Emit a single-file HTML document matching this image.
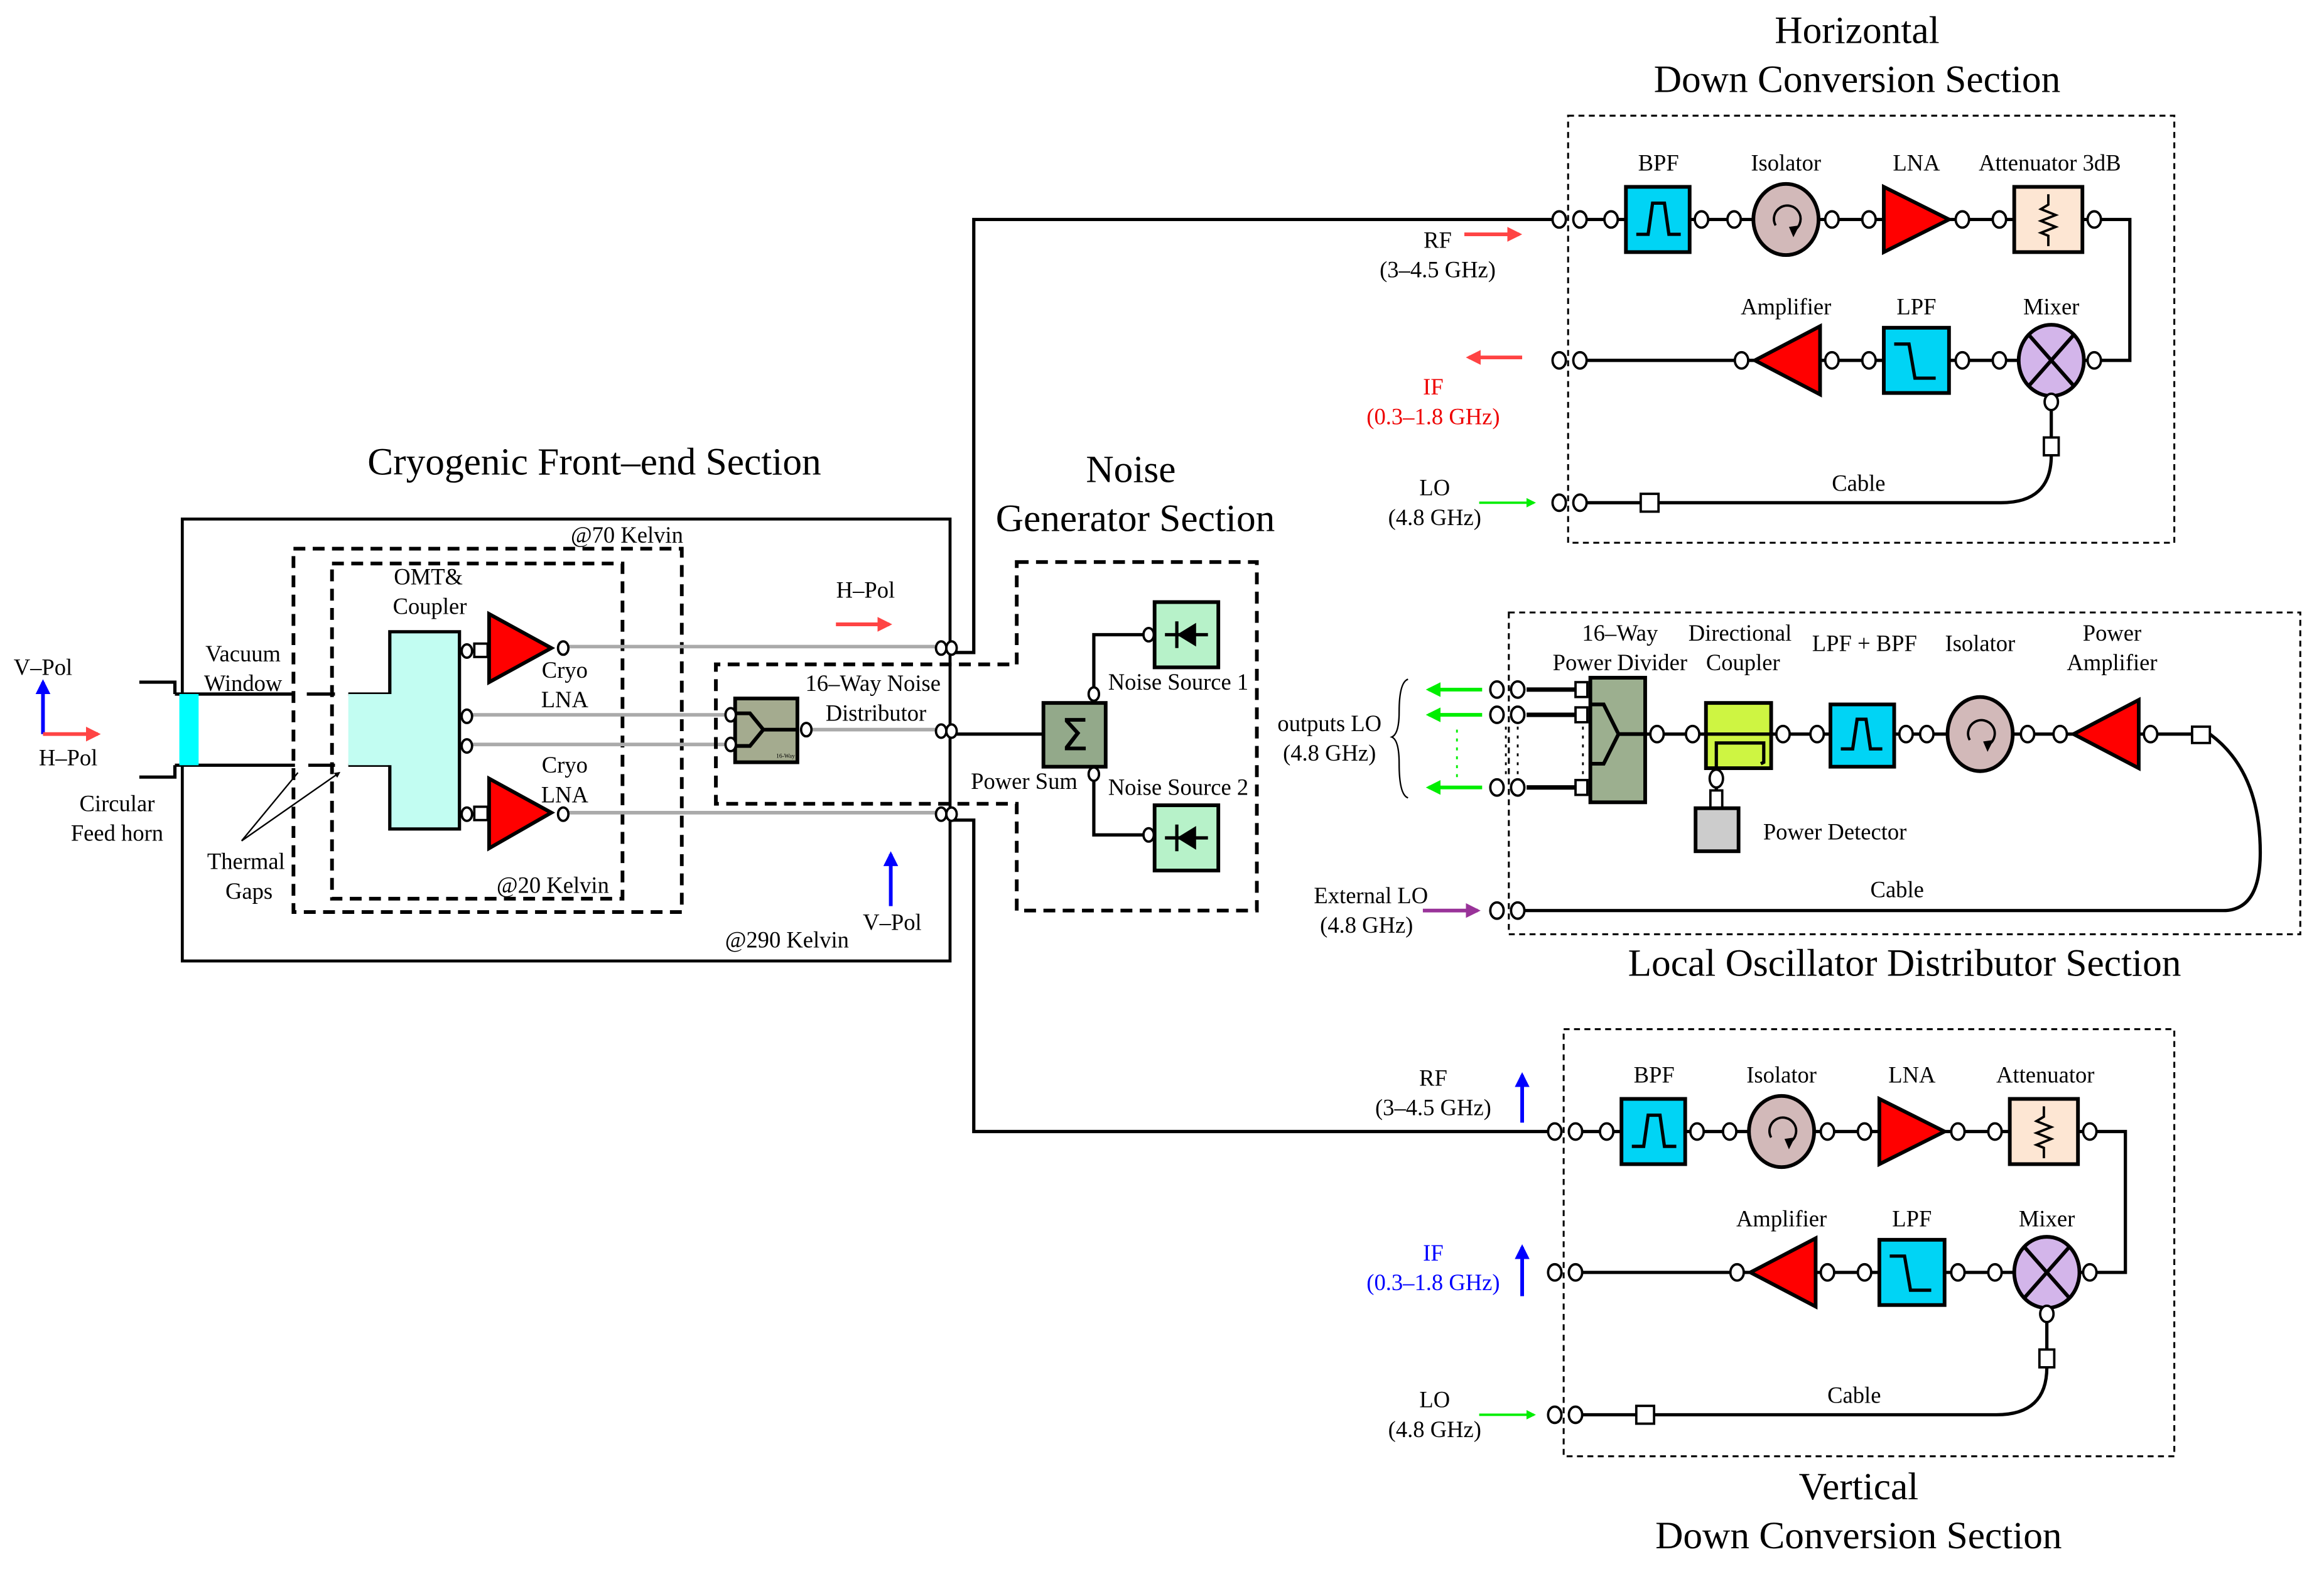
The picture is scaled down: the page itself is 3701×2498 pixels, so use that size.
<!DOCTYPE html>
<html><head><meta charset="utf-8"><style>
html,body{margin:0;padding:0;background:#fff}
svg{display:block}
text{font-family:"Liberation Serif",serif;font-size:15.5px;fill:#000;text-anchor:middle}
.t{font-size:26px}
.p{fill:#fff;stroke:#000;stroke-width:1.6}
.w{stroke:#000;stroke-width:2.2;fill:none}
.g{stroke:#aaa;stroke-width:2.4;fill:none}
.bx{stroke:#000;stroke-width:2.5}
</style></head><body>
<svg width="3701" height="2498" viewBox="0 0 1568 1058" preserveAspectRatio="none" xmlns="http://www.w3.org/2000/svg">
<defs>
<marker id="ar" viewBox="0 0 10 10" refX="8" refY="5" markerWidth="4" markerHeight="4" orient="auto"><path d="M0,0L10,5L0,10z" fill="context-stroke"/></marker>
<g id="chain">
 <path class="w" d="M1066,148H1097M1140,148H1183M1227,148H1271M1315,148H1359M1405,148H1437V243H1405M1362,243H1315M1271,243H1228M1184,243H1066M1384,265V295M1384,307 Q1384,339 1350,339H1119M1107,339H1066"/>
 <rect x="1097" y="126" width="43" height="44" fill="#00d4f5" class="bx"/>
 <path class="w" d="M1104,158H1112L1115,137H1123L1126,158H1134"/>
 <ellipse cx="1205" cy="148" rx="22" ry="24" fill="#d2b9b9" class="bx"/>
 <path class="w" style="stroke-width:1.6" d="M1198,152 A9,9 0 1 1 1211,155"/><path d="M1207,153L1214,152L1210,160z"/>
 <path d="M1271,126L1271,170L1315,148z" fill="#f00" class="bx"/>
 <rect x="1359" y="126" width="46" height="44" fill="#fde6d3" class="bx"/>
 <path class="w" style="stroke-width:1.6" d="M1382,131V138L1377,141L1387,145L1377,149L1387,153L1377,157L1382,159V166"/>
 <path d="M1184,243L1228,220L1228,266z" fill="#f00" class="bx"/>
 <rect x="1271" y="221" width="44" height="44" fill="#00d4f5" class="bx"/>
 <path class="w" d="M1278,232H1288L1292,255H1306"/>
 <ellipse cx="1384" cy="243" rx="22" ry="24" fill="#d3b5ea" class="bx"/>
 <path class="w" style="stroke-width:2.5" d="M1369,226L1399,260M1399,226L1369,260"/>
 <rect x="1379" y="295" width="10" height="12" class="p"/>
 <rect x="1107" y="333" width="12" height="12" class="p"/>
 <g class="p">
 <ellipse cx="1052" cy="148" rx="4.5" ry="5.5"/><ellipse cx="1066" cy="148" rx="4.5" ry="5.5"/>
 <ellipse cx="1087" cy="148" rx="4.5" ry="5.5"/><ellipse cx="1148" cy="148" rx="4.5" ry="5.5"/>
 <ellipse cx="1170" cy="148" rx="4.5" ry="5.5"/><ellipse cx="1236" cy="148" rx="4.5" ry="5.5"/>
 <ellipse cx="1261" cy="148" rx="4.5" ry="5.5"/><ellipse cx="1324" cy="148" rx="4.5" ry="5.5"/>
 <ellipse cx="1349" cy="148" rx="4.5" ry="5.5"/><ellipse cx="1413" cy="148" rx="4.5" ry="5.5"/>
 <ellipse cx="1052" cy="243" rx="4.5" ry="5.5"/><ellipse cx="1066" cy="243" rx="4.5" ry="5.5"/>
 <ellipse cx="1175" cy="243" rx="4.5" ry="5.5"/><ellipse cx="1236" cy="243" rx="4.5" ry="5.5"/>
 <ellipse cx="1261" cy="243" rx="4.5" ry="5.5"/><ellipse cx="1324" cy="243" rx="4.5" ry="5.5"/>
 <ellipse cx="1349" cy="243" rx="4.5" ry="5.5"/><ellipse cx="1413" cy="243" rx="4.5" ry="5.5"/>
 <ellipse cx="1384" cy="271" rx="4.5" ry="5.5"/>
 <ellipse cx="1052" cy="339" rx="4.5" ry="5.5"/><ellipse cx="1066" cy="339" rx="4.5" ry="5.5"/>
 </g>
</g>
</defs>

<!-- Horizontal section -->
<rect x="1058" y="78" width="409" height="288" fill="none" stroke="#000" stroke-width="1.3" stroke-dasharray="4,3"/>
<text class="t" x="1253" y="29">Horizontal</text>
<text class="t" x="1253" y="62">Down Conversion Section</text>
<use href="#chain"/>
<text x="1119" y="115">BPF</text><text x="1205" y="115">Isolator</text><text x="1293" y="115">LNA</text><text x="1383" y="115">Attenuator 3dB</text>
<text x="1205" y="212">Amplifier</text><text x="1293" y="212">LPF</text><text x="1384" y="212">Mixer</text>
<text x="1254" y="331">Cable</text>
<text x="970" y="167">RF</text><text x="970" y="187">(3–4.5 GHz)</text>
<line x1="988" y1="158" x2="1025" y2="158" stroke="#f44" stroke-width="2.5" marker-end="url(#ar)"/>
<text x="967" y="266" style="fill:#e00">IF</text><text x="967" y="286" style="fill:#e00">(0.3–1.8 GHz)</text>
<line x1="1027" y1="241" x2="991" y2="241" stroke="#f44" stroke-width="2.5" marker-end="url(#ar)"/>
<text x="968" y="334">LO</text><text x="968" y="354">(4.8 GHz)</text>
<line x1="998" y1="339" x2="1035" y2="339" stroke="#0e0" stroke-width="1.6" marker-end="url(#ar)"/>

<!-- Vertical section -->
<rect x="1055" y="694" width="412" height="288" fill="none" stroke="#000" stroke-width="1.3" stroke-dasharray="4,3"/>
<use href="#chain" transform="translate(-3,615)"/>
<text class="t" x="1254" y="1011">Vertical</text>
<text class="t" x="1254" y="1044">Down Conversion Section</text>
<text x="1116" y="730">BPF</text><text x="1202" y="730">Isolator</text><text x="1290" y="730">LNA</text><text x="1380" y="730">Attenuator</text>
<text x="1202" y="827">Amplifier</text><text x="1290" y="827">LPF</text><text x="1381" y="827">Mixer</text>
<text x="1251" y="946">Cable</text>
<text x="967" y="732">RF</text><text x="967" y="752">(3–4.5 GHz)</text>
<line x1="1027" y1="757" x2="1027" y2="725" stroke="#00f" stroke-width="2.5" marker-end="url(#ar)"/>
<text x="967" y="850" style="fill:#00f">IF</text><text x="967" y="870" style="fill:#00f">(0.3–1.8 GHz)</text>
<line x1="1027" y1="874" x2="1027" y2="841" stroke="#00f" stroke-width="2.5" marker-end="url(#ar)"/>
<text x="968" y="949">LO</text><text x="968" y="969">(4.8 GHz)</text>
<line x1="998" y1="954" x2="1035" y2="954" stroke="#0e0" stroke-width="1.6" marker-end="url(#ar)"/>

<!-- connections from cryo -->
<path class="w" d="M643,440H657V148H1048M643,553H657V763H1045M643,495H704"/>

<!-- Cryo section -->
<text class="t" x="401" y="320">Cryogenic Front–end Section</text>
<rect x="123" y="350" width="518" height="298" fill="none" stroke="#000" stroke-width="2"/>
<rect x="198" y="370" width="262" height="245" fill="none" stroke="#000" stroke-width="2.5" stroke-dasharray="8,5"/>
<rect x="224" y="380" width="196" height="226" fill="none" stroke="#000" stroke-width="2.5" stroke-dasharray="8,5"/>
<text x="423" y="366">@70 Kelvin</text>
<text x="373" y="602">@20 Kelvin</text>
<text x="531" y="639">@290 Kelvin</text>
<path class="w" d="M94,460H118V468M94,524H118V516M118,468H198M207,468H226M235,468H263M118,516H199M208,516H226M235,516H263"/>
<rect x="121" y="468" width="13" height="48" fill="#0ff"/>
<path d="M235,468H263V426H310V559H263V516H235z" fill="#c2fdf2" stroke="none"/>
<path class="w" d="M263,468V426H310V559H263V516"/>
<path class="g" d="M380,436H631M315,482H490M315,502H490M543,492H631M380,548H631"/>
<path d="M330,414L330,460L372,437z" fill="#f00" class="bx"/>
<path d="M330,525L330,572L372,548z" fill="#f00" class="bx"/>
<rect x="320" y="434" width="9" height="9" class="p"/><rect x="320" y="544" width="9" height="9" class="p"/>
<rect x="496" y="471" width="42" height="43" fill="#a4ab8f" class="bx"/>
<path class="w" style="stroke-width:2.5" d="M496,481H506L515,492L506,503H496M515,492H538"/>
<text x="530" y="511" style="font-size:4px">16-Way</text>
<g class="p">
<ellipse cx="315" cy="439" rx="3.5" ry="4.5"/><ellipse cx="315" cy="549" rx="3.5" ry="4.5"/>
<ellipse cx="380" cy="437" rx="3.5" ry="4.5"/><ellipse cx="380" cy="549" rx="3.5" ry="4.5"/>
<ellipse cx="315" cy="483" rx="3.5" ry="4.5"/><ellipse cx="315" cy="503" rx="3.5" ry="4.5"/>
<ellipse cx="493" cy="482" rx="3.5" ry="4.5"/><ellipse cx="493" cy="502" rx="3.5" ry="4.5"/>
<ellipse cx="544" cy="492" rx="3.5" ry="4.5"/>
<ellipse cx="635" cy="437" rx="3.5" ry="4.5"/><ellipse cx="642" cy="437" rx="3.5" ry="4.5"/>
<ellipse cx="635" cy="493" rx="3.5" ry="4.5"/><ellipse cx="642" cy="493" rx="3.5" ry="4.5"/>
<ellipse cx="635" cy="549" rx="3.5" ry="4.5"/><ellipse cx="642" cy="549" rx="3.5" ry="4.5"/>
</g>
<text x="289" y="394">OMT&amp;</text><text x="290" y="414">Coupler</text>
<text x="164" y="446">Vacuum</text><text x="164" y="466">Window</text>
<text x="29" y="455">V–Pol</text><text x="46" y="516">H–Pol</text>
<line x1="29" y1="495" x2="29" y2="460" stroke="#00f" stroke-width="2.5" marker-end="url(#ar)"/>
<line x1="29" y1="495" x2="66" y2="495" stroke="#f44" stroke-width="2.5" marker-end="url(#ar)"/>
<text x="79" y="547">Circular</text><text x="79" y="567">Feed horn</text>
<text x="166" y="586">Thermal</text><text x="168" y="606">Gaps</text>
<path d="M163,567L201,521M163,567L229,521" stroke="#000" stroke-width="1" fill="none" marker-end="url(#ar)"/>
<text x="381" y="457">Cryo</text><text x="381" y="477">LNA</text>
<text x="381" y="521">Cryo</text><text x="381" y="541">LNA</text>
<text x="584" y="403">H–Pol</text>
<line x1="564" y1="421" x2="600" y2="421" stroke="#f44" stroke-width="2.5" marker-end="url(#ar)"/>
<text x="589" y="466">16–Way Noise</text><text x="591" y="486">Distributor</text>
<text x="602" y="627">V–Pol</text>
<line x1="601" y1="611" x2="601" y2="576" stroke="#00f" stroke-width="2.5" marker-end="url(#ar)"/>

<!-- Noise section -->
<text class="t" x="763" y="325">Noise</text>
<text class="t" x="766" y="358">Generator Section</text>
<path d="M686,379H848V614H686V542H483V448H686Z" fill="none" stroke="#000" stroke-width="2.5" stroke-dasharray="8,5"/>
<path class="w" d="M738,468V428H775M738,522V563H775"/>
<rect x="704" y="474" width="42" height="43" fill="#93a98a" class="bx"/>
<text x="725" y="506" style="font-size:30px;font-family:'DejaVu Sans',sans-serif">Σ</text>
<rect x="779" y="406" width="43" height="44" fill="#b7f2c9" class="bx"/>
<rect x="779" y="543" width="43" height="44" fill="#b7f2c9" class="bx"/>
<path class="w" d="M786,428H815M794,419V437"/><path d="M794,428L807,420V436z"/>
<path class="w" d="M786,565H815M794,556V574"/><path d="M794,565L807,557V573z"/>
<g class="p"><ellipse cx="738" cy="468" rx="3.5" ry="4.5"/><ellipse cx="738" cy="522" rx="3.5" ry="4.5"/><ellipse cx="775" cy="428" rx="3.5" ry="4.5"/><ellipse cx="775" cy="563" rx="3.5" ry="4.5"/></g>
<text x="795" y="465">Noise Source 1</text><text x="795" y="536">Noise Source 2</text><text x="691" y="532">Power Sum</text>

<!-- LO distributor -->
<rect x="1018" y="413" width="534" height="217" fill="none" stroke="#000" stroke-width="1.3" stroke-dasharray="4,3"/>
<text class="t" x="1285" y="658">Local Oscillator Distributor Section</text>
<path class="w" style="stroke-width:3" d="M1030,465H1063M1030,482H1063M1030,531H1063"/>
<rect x="1073" y="457" width="37" height="84" fill="#9caf8f" class="bx"/>
<path class="w" style="stroke-width:2.5" d="M1073,475H1082L1092,495L1082,515H1073M1092,495H1110"/>
<g class="p"><rect x="1063" y="460" width="8" height="10"/><rect x="1063" y="477" width="8" height="10"/><rect x="1063" y="526" width="8" height="10"/></g>
<path d="M1016,490V525M1024,490V525M1068,490V525" stroke="#000" stroke-width="1.2" stroke-dasharray="2,4"/>
<path d="M983,492V525" stroke="#0e0" stroke-width="1.2" stroke-dasharray="2,4"/>
<g stroke="#0e0" stroke-width="2.5"><line x1="1000" y1="465" x2="964" y2="465" marker-end="url(#ar)"/><line x1="1000" y1="482" x2="964" y2="482" marker-end="url(#ar)"/><line x1="1000" y1="531" x2="964" y2="531" marker-end="url(#ar)"/></g>
<path d="M950,458Q944,460 944,480Q944,495 939,497Q944,499 944,515Q944,536 950,538" fill="none" stroke="#000" stroke-width="1"/>
<path class="w" d="M1110,495H1151M1195,495H1235M1278,495H1314M1358,495H1399M1443,495H1479M1491,495Q1525,520 1525,575Q1525,614 1500,614H1024M1158,518V533"/>
<rect x="1151" y="474" width="44" height="44" fill="#cef542" class="bx"/>
<path class="w" d="M1151,495H1195M1158,520V501H1190V514L1188,515"/>
<rect x="1235" y="475" width="43" height="42" fill="#00d4f5" class="bx"/>
<path class="w" d="M1242,505H1250L1253,485H1259L1262,505H1270"/>
<ellipse cx="1336" cy="495" rx="22" ry="25" fill="#d2b9b9" class="bx"/>
<path class="w" style="stroke-width:1.6" d="M1329,499 A9,9 0 1 1 1342,502"/><path d="M1338,500L1345,499L1341,507z"/>
<path d="M1399,495L1443,472L1443,518z" fill="#f00" class="bx"/>
<rect x="1479" y="490" width="12" height="11" class="p"/>
<rect x="1154" y="533" width="8" height="12" class="p"/>
<rect x="1144" y="545" width="29" height="29" fill="#ccc" class="bx"/>
<g class="p">
<ellipse cx="1010" cy="465" rx="4.5" ry="5.5"/><ellipse cx="1024" cy="465" rx="4.5" ry="5.5"/>
<ellipse cx="1010" cy="482" rx="4.5" ry="5.5"/><ellipse cx="1024" cy="482" rx="4.5" ry="5.5"/>
<ellipse cx="1010" cy="531" rx="4.5" ry="5.5"/><ellipse cx="1024" cy="531" rx="4.5" ry="5.5"/>
<ellipse cx="1010" cy="614" rx="4.5" ry="5.5"/><ellipse cx="1024" cy="614" rx="4.5" ry="5.5"/>
<ellipse cx="1118" cy="495" rx="4.5" ry="5.5"/><ellipse cx="1142" cy="495" rx="4.5" ry="5.5"/>
<ellipse cx="1203" cy="495" rx="4.5" ry="5.5"/><ellipse cx="1226" cy="495" rx="4.5" ry="5.5"/>
<ellipse cx="1286" cy="495" rx="4.5" ry="5.5"/><ellipse cx="1300" cy="495" rx="4.5" ry="5.5"/>
<ellipse cx="1368" cy="495" rx="4.5" ry="5.5"/><ellipse cx="1390" cy="495" rx="4.5" ry="5.5"/>
<ellipse cx="1451" cy="495" rx="4.5" ry="5.5"/><ellipse cx="1158" cy="525" rx="4.5" ry="6"/>
</g>
<line x1="960" y1="614" x2="997" y2="614" stroke="#939" stroke-width="2.5" marker-end="url(#ar)"/>
<text x="1093" y="432">16–Way</text><text x="1093" y="452">Power Divider</text>
<text x="1174" y="432">Directional</text><text x="1176" y="452">Coupler</text>
<text x="1258" y="439">LPF + BPF</text><text x="1336" y="439">Isolator</text>
<text x="1425" y="432">Power</text><text x="1425" y="452">Amplifier</text>
<text x="1238" y="566">Power Detector</text><text x="1280" y="605">Cable</text>
<text x="897" y="493">outputs LO</text><text x="897" y="513">(4.8 GHz)</text>
<text x="925" y="609">External LO</text><text x="922" y="629">(4.8 GHz)</text>
</svg>
</body></html>
